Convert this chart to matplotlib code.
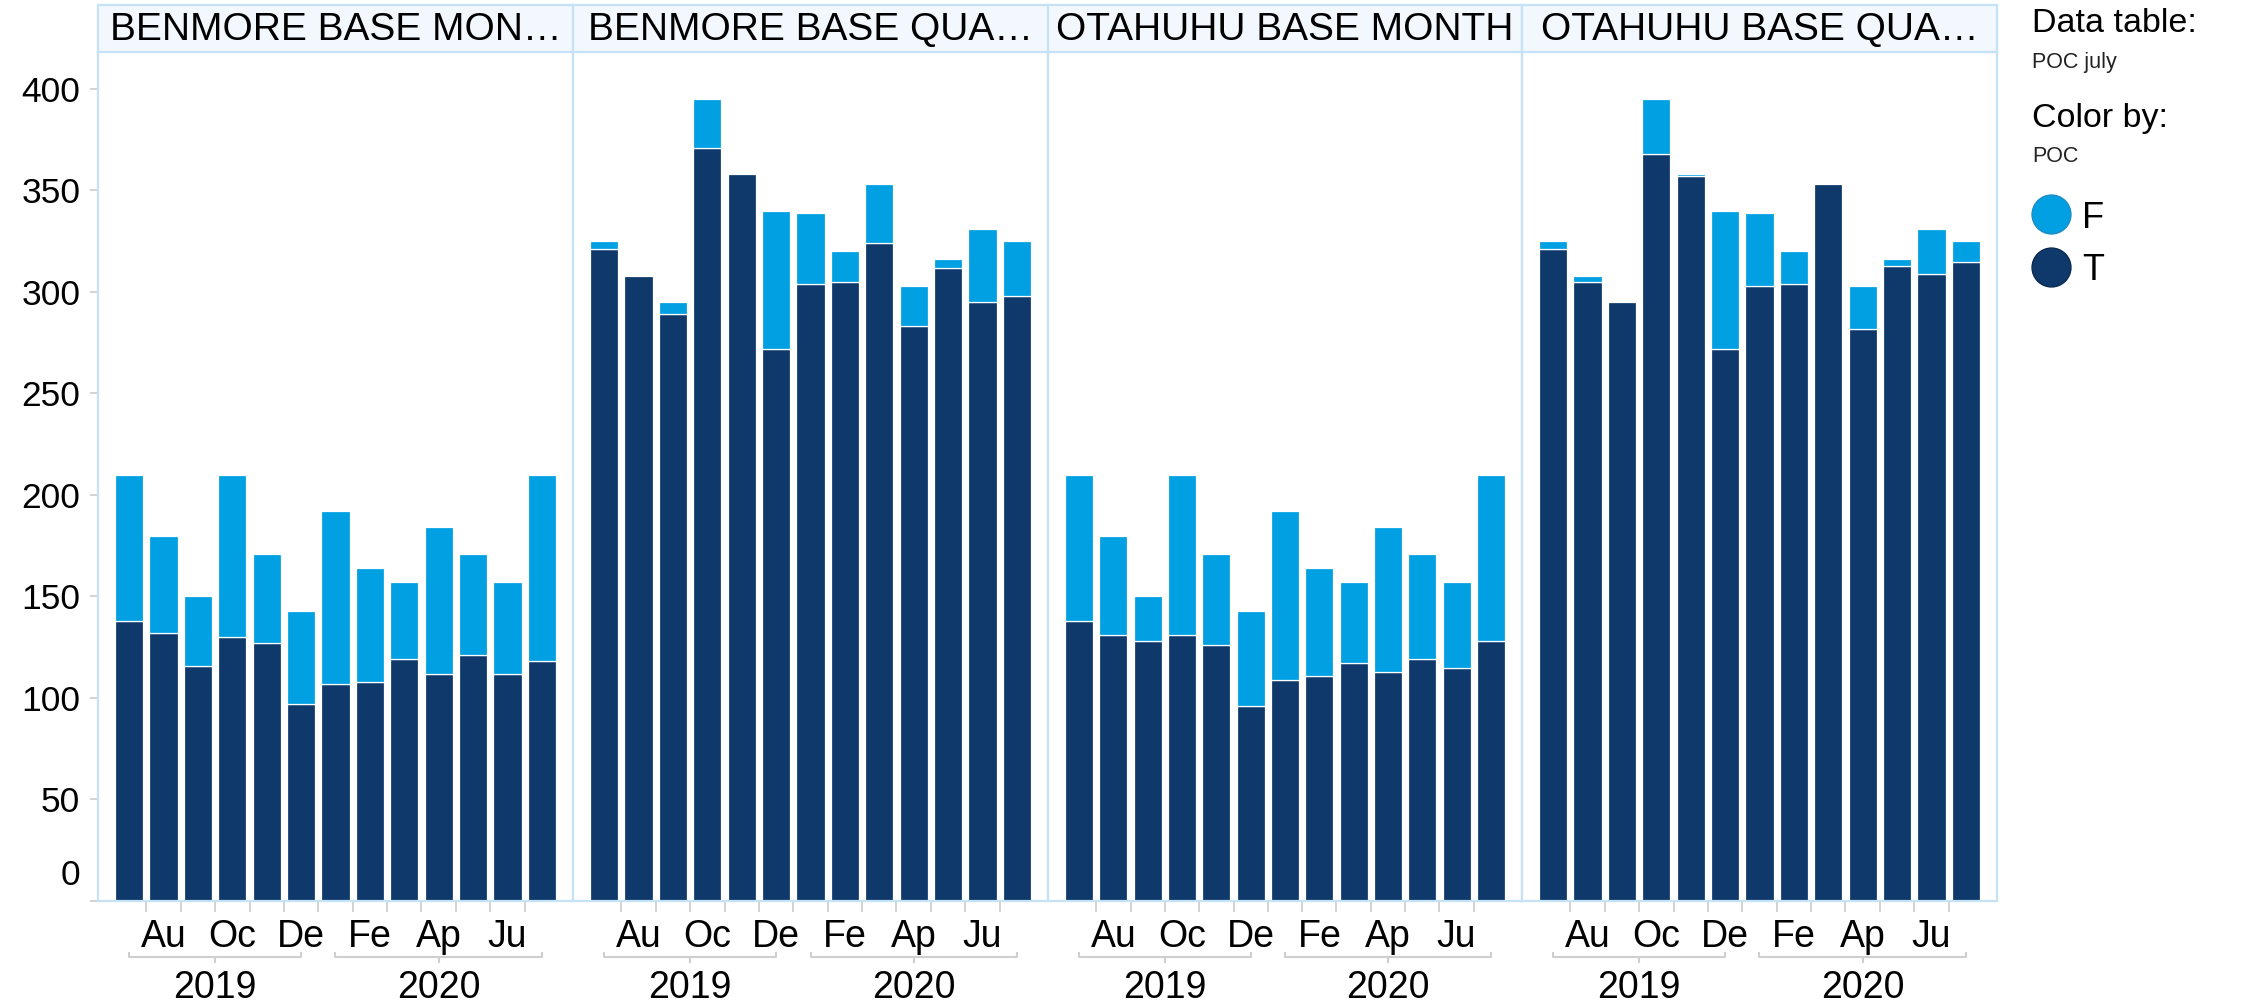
import numpy as np
import matplotlib.pyplot as plt
import matplotlib.transforms as mtransforms
from matplotlib.lines import Line2D

plt.rcParams['font.family'] = ['Liberation Sans', 'DejaVu Sans']

# --- data (Jul 2019 .. Jul 2020, one bar per month) ---
panel_titles = ['BENMORE BASE MON\u2026', 'BENMORE BASE QUA\u2026',
                'OTAHUHU BASE MONTH', 'OTAHUHU BASE QUA\u2026']

benmore_month_T = [138, 132, 116, 130, 127, 97, 107, 108, 119, 112, 121, 112, 118]
benmore_month_F = [72, 48, 34, 80, 44, 46, 85, 56, 38, 72, 50, 45, 92]

benmore_quarter_T = [321, 308, 289, 371, 358, 272, 304, 305, 324, 283, 312, 295, 298]
benmore_quarter_F = [4, 0, 6, 24, 0, 68, 35, 15, 29, 20, 4, 36, 27]

otahuhu_month_T = [138, 131, 128, 131, 126, 96, 109, 111, 117, 113, 119, 115, 128]
otahuhu_month_F = [72, 49, 22, 79, 45, 47, 83, 53, 40, 71, 52, 42, 82]

otahuhu_quarter_T = [321, 305, 295, 368, 357, 272, 303, 304, 353, 282, 313, 309, 315]
otahuhu_quarter_F = [4, 3, 0, 27, 1, 68, 36, 16, 0, 21, 3, 22, 10]

month_ticks = [1, 3, 5, 7, 9, 11]
month_labels = ['Au', 'Oc', 'De', 'Fe', 'Ap', 'Ju']
years = ['2019', '2020']
year_spans = [(0, 5), (6, 12)]
y_ticks = [0, 50, 100, 150, 200, 250, 300, 350, 400]

series_T = [benmore_month_T, benmore_quarter_T, otahuhu_month_T, otahuhu_quarter_T]
series_F = [benmore_month_F, benmore_quarter_F, otahuhu_month_F, otahuhu_quarter_F]

# --- style ---
LIGHT = '#00A0E3'
DARK = '#10396B'
LINE = '#C6E2F6'
HEAD_BG = '#F2F8FD'
GREY = '#CFCFCF'

W, H = 2241, 1005


def fx(x):
    return x / W


def fy(y):
    return 1 - y / H


fig = plt.figure(figsize=(W / 100, H / 100), dpi=100)

edges = [98, 573, 1048, 1522, 1997]
top, base = 52, 901

for i in range(4):
    left, right = edges[i], edges[i + 1]
    ax = fig.add_axes([fx(left), fy(base), (right - left) / W, (base - top) / H])
    x = np.arange(len(series_T[i]))
    T = np.array(series_T[i])
    F = np.array(series_F[i])
    ax.bar(x, T, width=0.82, color=DARK, edgecolor='white', linewidth=0.9, zorder=2)
    m = F > 0
    ax.bar(x[m], F[m], bottom=T[m], width=0.82, color=LIGHT,
           edgecolor='white', linewidth=0.9, zorder=2)

    ax.set_xlim(-0.905, 12.905)
    ax.set_ylim(0, 418.2)
    for s in ax.spines.values():
        s.set_color(LINE)
        s.set_linewidth(1.6)

    ax.set_xticks(np.arange(12) + 0.5)
    ax.tick_params(axis='x', length=8, width=1.3, color=GREY, labelbottom=False)

    if i == 0:
        ax.set_yticks(y_ticks)
        ax.set_yticklabels([''] + [str(v) for v in y_ticks[1:]])
        ax.tick_params(axis='y', length=5.8, width=1.3, color=GREY, pad=7,
                       labelsize=25.5)
        ax.annotate('0', xy=(0, 0), xycoords=('axes fraction', 'data'),
                    xytext=(-18, 26), textcoords='offset pixels',
                    ha='right', va='center', fontsize=25.5)
    else:
        ax.set_yticks([])

    trans = mtransforms.blended_transform_factory(ax.transData, fig.transFigure)
    for t, lab in zip(month_ticks, month_labels):
        ax.text(t, fy(946.7), lab, transform=trans, ha='center', va='baseline',
                fontsize=27)
    for (a, b), yr in zip(year_spans, years):
        c = (a + b) / 2
        ax.add_line(Line2D([a, a, b, b], [fy(953), fy(957), fy(957), fy(953)],
                           transform=trans, color=GREY, lw=1.5, clip_on=False))
        ax.add_line(Line2D([c, c], [fy(957), fy(962)], transform=trans,
                           color=GREY, lw=1.5, clip_on=False))
        ax.text(c, fy(998), yr, transform=trans, ha='center', va='baseline',
                fontsize=27)

    # panel header
    hax = fig.add_axes([fx(left), fy(top), (right - left) / W, (top - 5) / H])
    hax.set_facecolor(HEAD_BG)
    hax.set_xticks([])
    hax.set_yticks([])
    for s in hax.spines.values():
        s.set_color(LINE)
        s.set_linewidth(1.6)
    hax.text(0.5, (top - 40) / (top - 5), panel_titles[i], transform=hax.transAxes,
             ha='center', va='baseline', fontsize=28)

# --- legend ---
fig.text(fx(2032), fy(32), 'Data table:', fontsize=24.5, va='baseline')
fig.text(fx(2032), fy(68), 'POC july', fontsize=15.5, va='baseline', color='#222222')
fig.text(fx(2032), fy(127), 'Color by:', fontsize=24.5, va='baseline')
fig.text(fx(2032), fy(162), 'POC', fontsize=15.5, va='baseline', color='#222222')
for name, col, edge, yc in [('F', LIGHT, '#1E8CC4', 214), ('T', DARK, '#0A2A50', 267)]:
    fig.add_artist(Line2D([fx(2050.7)], [fy(yc)], marker='o', markersize=28,
                          markerfacecolor=col, markeredgecolor=edge,
                          markeredgewidth=1, linestyle='none',
                          transform=fig.transFigure))
    fig.text(fx(2082), fy(yc + 13.5), name, fontsize=26, va='baseline')

fig.savefig('out.png', dpi=100)
